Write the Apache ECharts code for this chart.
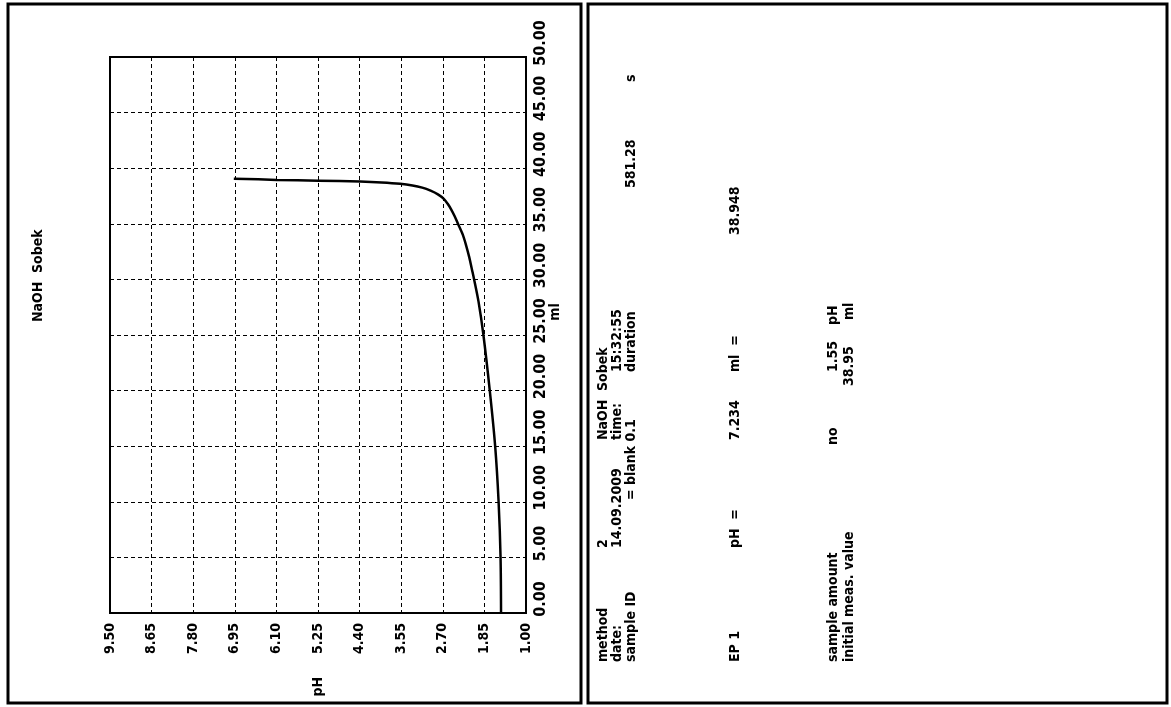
<!DOCTYPE html>
<html>
<head>
<meta charset="utf-8">
<script src="https://cdn.jsdelivr.net/npm/echarts@6/dist/echarts.min.js"></script>
<style>
  html, body { margin: 0; padding: 0; background: #fff; }
  #main { width: 1171px; height: 707px; }
</style>
</head>
<body>
<div id="main"></div>
<script>
// titration curve: pH against added ml
var phValues = [1.51, 1.52, 1.56, 1.63, 1.74, 1.87, 1.97, 2.06, 2.11, 2.16, 2.22, 2.29, 2.39, 2.46, 2.53, 2.60, 2.68, 2.80, 2.95, 3.12, 3.32, 3.57, 3.95, 4.39, 5.24, 6.09, 6.97];
var mlValues = [0, 5, 10, 15, 20, 25, 28, 30, 31, 32, 33, 34, 35, 35.7, 36.3, 36.8, 37.25, 37.65, 37.98, 38.25, 38.45, 38.6, 38.72, 38.8, 38.88, 38.95, 39.06];

var phMin = 1.0, phMax = 9.5, phStep = 0.85;
var mlMin = 0, mlMax = 50, mlStep = 5;

var chartTitle = 'NaOH  Sobek';

// report text, one array per printed line
var reportLines = [
  ['method', '2', 'NaOH  Sobek'],
  ['date:', '14.09.2009', 'time:', '15:32:55'],
  ['sample ID', '= blank 0.1', 'duration', '581.28', 's'],
  ['EP 1', 'pH  =', '7.234', 'ml  =', '38.948'],
  ['sample amount', 'no', '1.55', 'pH'],
  ['initial meas. value', '38.95', 'ml']
];

// where the report lines sit (x of line, start y of each field)
var reportX = [603, 617, 631, 735, 833, 849];
var reportY = [
  [662, 548, 440],
  [662, 548, 440, 372],
  [662, 500, 372, 188, 82],
  [662, 548, 440, 372, 235],
  [662, 445, 372, 325],
  [662, 386, 320]
];

var FONT = "'DejaVu Sans Condensed', 'DejaVu Sans', sans-serif";

var curve = phValues.map(function (p, i) { return [p, mlValues[i]]; });

var graphics = [
  { type: 'rect', shape: { x: 8, y: 4, width: 573, height: 699 },
    style: { fill: 'none', stroke: '#000', lineWidth: 3 }, z: 100 },
  { type: 'rect', shape: { x: 588, y: 4, width: 579, height: 699 },
    style: { fill: 'none', stroke: '#000', lineWidth: 3 }, z: 100 },
  { type: 'text', x: 38, y: 322, rotation: Math.PI / 2,
    style: { text: chartTitle, fill: '#000', fontSize: 14, fontWeight: 'bold', fontFamily: FONT,
             textAlign: 'left', textVerticalAlign: 'middle' } }
];

reportLines.forEach(function (line, li) {
  line.forEach(function (txt, k) {
    graphics.push({
      type: 'text', x: reportX[li], y: reportY[li][k], rotation: Math.PI / 2,
      style: { text: txt, fill: '#000', fontSize: 14, fontWeight: 'bold', fontFamily: FONT,
               textAlign: 'left', textVerticalAlign: 'middle' }
    });
  });
});

var chart = echarts.init(document.getElementById('main'), null, { renderer: 'canvas' });

var option = {
  backgroundColor: '#fff',
  animation: false,
  grid: {
    left: 110, top: 57, width: 416, height: 556,
    show: true, borderColor: '#000', borderWidth: 2, backgroundColor: 'transparent'
  },
  xAxis: {
    type: 'value',
    min: phMin, max: phMax, interval: phStep,
    inverse: true,
    position: 'bottom',
    name: 'pH', nameLocation: 'middle', nameGap: 64, nameRotate: 90,
    nameMoveOverlap: false,
    nameTextStyle: { color: '#000', fontSize: 14, fontWeight: 'bold', fontFamily: FONT },
    axisLine: { show: true, lineStyle: { color: '#000', width: 2 } },
    axisTick: { show: false },
    axisLabel: {
      rotate: 90, margin: 10, color: '#000', fontSize: 14, fontWeight: 'bold', fontFamily: FONT,
      showMinLabel: true, showMaxLabel: true, hideOverlap: false,
      formatter: function (v) { return v.toFixed(2); }
    },
    splitLine: { show: true, lineStyle: { color: '#000', width: 1, type: [4, 3] } }
  },
  yAxis: {
    type: 'value',
    min: mlMin, max: mlMax, interval: mlStep,
    position: 'right',
    name: 'ml', nameLocation: 'middle', nameGap: 22, nameRotate: 90,
    nameMoveOverlap: false,
    nameTextStyle: { color: '#000', fontSize: 14, fontWeight: 'bold', fontFamily: FONT, padding: [0, 0, 0, 46] },
    axisLine: { show: true, lineStyle: { color: '#000', width: 2 } },
    axisTick: { show: false },
    axisLabel: {
      rotate: 90, margin: 7, color: '#000', fontSize: 16, fontWeight: 'bold', fontFamily: FONT,
      showMinLabel: true, showMaxLabel: true, hideOverlap: false,
      padding: [0, 0, 0, 28],
      formatter: function (v) { return v.toFixed(2); }
    },
    splitLine: { show: true, lineStyle: { color: '#000', width: 1, type: [4, 3] } }
  },
  series: [{
    type: 'line',
    data: curve,
    smooth: 0.3,
    showSymbol: false,
    symbol: 'none',
    lineStyle: { color: '#000', width: 2.5 },
    z: 5
  }],
  graphic: graphics
};

chart.setOption(option);
</script>
</body>
</html>
